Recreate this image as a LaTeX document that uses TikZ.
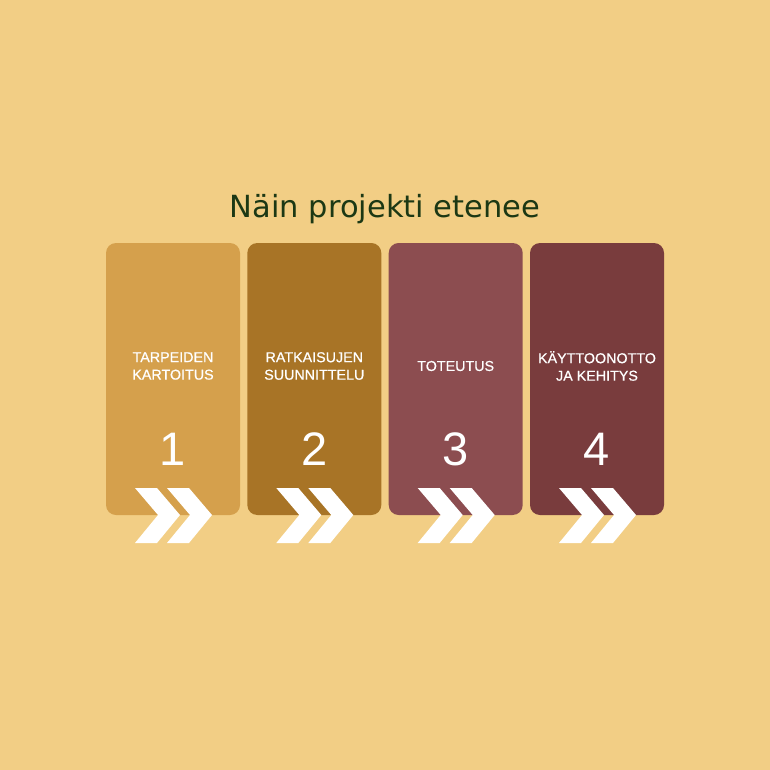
\documentclass[tikz,border=0pt]{standalone}
\usepackage{fontspec}
\setmainfont{Liberation Sans}
\newfontfamily\titlefont{DejaVu Sans}
\newfontfamily\phasefont[RawFeature={embolden=0.6}]{Liberation Sans}
\definecolor{bgsand}{RGB}{242,206,133}
\definecolor{stepone}{RGB}{213,160,76}
\definecolor{steptwo}{RGB}{168,116,38}
\definecolor{stepthree}{RGB}{140,77,80}
\definecolor{stepfour}{RGB}{121,60,61}
\definecolor{titlegreen}{RGB}{28,56,20}
\tikzset{
	card/.style={fill=#1, rounded corners=10pt, minimum width=134pt, minimum height=272pt, inner sep=0pt},
	phase/.style={white, font=\phasefont\fontsize{14.3}{17.5}\selectfont, align=center},
	phasenum/.style={white, font=\fontsize{47}{50}\selectfont},
	arrowfill/.style={fill=white}
}
\begin{document}
\begin{tikzpicture}[x=1pt,y=-1pt]
			\fill[bgsand] (0,0) rectangle (770,770);
			\useasboundingbox (0,0) rectangle (770,770);
			\node[anchor=base, titlegreen, font=\titlefont\fontsize{30.5}{34}\selectfont] (title) at (385,217) {Näin projekti etenee};
			% vaiheet
			\node[card=stepone] (card1) at (173,379) {};
			\node[card=steptwo] (card2) at (314.3,379) {};
			\node[card=stepthree] (card3) at (455.7,379) {};
			\node[card=stepfour] (card4) at (597,379) {};
			\node[phase] (name1) at (173,366) {TARPEIDEN\\KARTOITUS};
			\node[phase] (name2) at (314.3,366) {RATKAISUJEN\\SUUNNITTELU};
			\node[phase] (name3) at (455.7,366) {TOTEUTUS};
			\node[phase] (name4) at (597,366) {KÄYTTOONOTTO\\JA KEHITYS};
			\node[phasenum] (num1) at (173,449) {1};
			\node[phasenum] (num2) at (314.3,449) {2};
			\node[phasenum] (num3) at (455.7,449) {3};
			\node[phasenum] (num4) at (597,449) {4};
			% nuolet
			\coordinate (ch1) at (173,515);
			\coordinate (ch2) at (314.3,515);
			\coordinate (ch3) at (455.7,515);
			\coordinate (ch4) at (597,515);
			\foreach \c in {ch1,ch2,ch3,ch4}{
				\fill[arrowfill] (\c) ++(-38,-27) -- ++(22,0) -- ++(23,27) -- ++(-23,28) -- ++(-22,0) -- ++(23,-28) -- cycle;
				\fill[arrowfill] (\c) ++(-6,-27) -- ++(22,0) -- ++(23,27) -- ++(-23,28) -- ++(-22,0) -- ++(23,-28) -- cycle;
			}
		\end{tikzpicture}
\end{document}
